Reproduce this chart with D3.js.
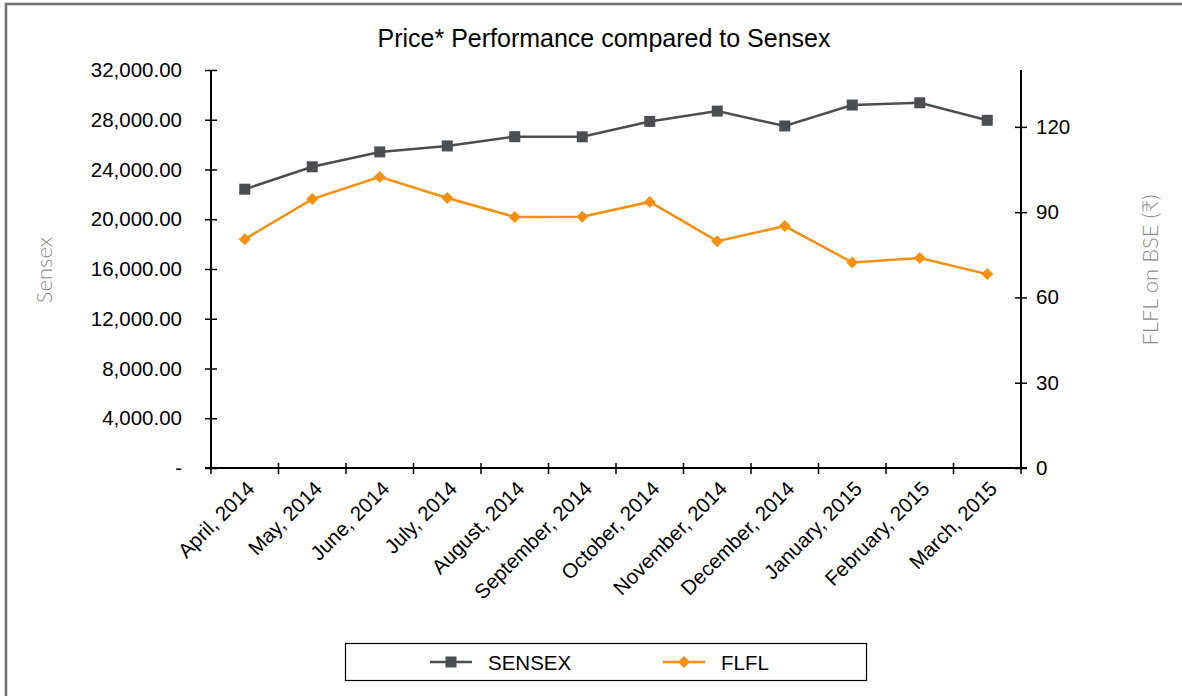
<!DOCTYPE html>
<meta charset="utf-8">
<style>
body { margin: 0; background: #fff; }
text { font-family: "Liberation Sans", Arial, sans-serif; fill: #000; }
.axis-title { font-family: Lato, "Noto Sans", sans-serif; font-weight: 300; fill: #8a8a8a; }
</style>
<svg width="1182" height="696"></svg>
<script src="https://d3js.org/d3.v7.min.js"></script>
<script>

// chart data
let months = ["April, 2014", "May, 2014", "June, 2014", "July, 2014", "August, 2014", "September, 2014",
  "October, 2014", "November, 2014", "December, 2014", "January, 2015", "February, 2015", "March, 2015"];
let sensex = [22417, 24217, 25414, 25895, 26638, 26631, 27866, 28694, 27499, 29183, 29362, 27957];
let flfl = [80.5, 94.6, 102.4, 95.0, 88.3, 88.4, 93.6, 79.8, 85.1, 72.3, 73.9, 68.2];
let leftTicks = [0, 4000, 8000, 12000, 16000, 20000, 24000, 28000, 32000];
let rightTicks = [0, 30, 60, 90, 120];

let svg = d3.select("svg");
let pLeft = 211, pRight = 1021, pTop = 70, pBottom = 468;
let fs = "20.5px";

// outer frame
svg.append("path")
  .attr("d", "M6,700 V4 H1190")
  .attr("fill", "none")
  .attr("stroke", "#6d6e70")
  .attr("stroke-width", 2.5);

svg.append("text")
  .attr("x", 604).attr("y", 47)
  .attr("text-anchor", "middle")
  .style("font-size", "25px")
  .text("Price* Performance compared to Sensex");

let x = d3.scaleBand().domain(months).range([pLeft, pRight]);
let yL = d3.scaleLinear().domain([0, 32000]).range([pBottom, pTop]);
let yR = d3.scaleLinear().domain([0, 140]).range([pBottom, pTop]);

let fmt = d => d === 0 ? "-" : d3.format(",.2f")(d);

// left axis
let gl = svg.append("g").attr("transform", `translate(${pLeft},0)`)
  .call(d3.axisLeft(yL).tickValues(leftTicks).tickFormat(fmt).tickSize(6).tickPadding(23));
gl.selectAll(".tick line").attr("x2", 6).attr("x1", -6);
gl.select(".domain").attr("d", `M0,${pTop}V${pBottom}`);

// right axis
let gr = svg.append("g").attr("transform", `translate(${pRight},0)`)
  .call(d3.axisRight(yR).tickValues(rightTicks).tickSize(6).tickPadding(9));
gr.selectAll(".tick line").attr("x1", -6).attr("x2", 6);
gr.select(".domain").attr("d", `M0,${pTop}V${pBottom}`);

// x axis, ticks at band edges
let gx = svg.append("g").attr("transform", `translate(0,${pBottom})`);
gx.append("line").attr("x1", pLeft - 6).attr("x2", pRight + 6).attr("stroke", "#000").attr("stroke-width", 2);
let edges = months.map(m => x(m)).concat([pRight]);
gx.selectAll(".xt").data(edges).enter().append("line")
  .attr("x1", d => d).attr("x2", d => d).attr("y1", -5).attr("y2", 6)
  .attr("stroke", "#000").attr("stroke-width", 1.5);
gx.selectAll(".xl").data(months).enter().append("text")
  .attr("transform", d => `translate(${x(d) + x.bandwidth() / 2 + 11},${22}) rotate(-45)`)
  .attr("text-anchor", "end")
  .style("font-size", fs)
  .text(d => d);

[gl, gr].forEach(g => {
  g.attr("font-family", null);
  g.select(".domain").attr("stroke-width", 2);
  g.selectAll(".tick line").attr("stroke-width", 1.5);
  g.selectAll(".tick text").style("font-size", fs).attr("fill", "#000");
});

// axis titles
svg.append("text").attr("class", "axis-title")
  .attr("transform", "translate(52,270) rotate(-90)")
  .attr("text-anchor", "middle").style("font-size", "22px")
  .text("Sensex");
svg.append("text").attr("class", "axis-title")
  .attr("transform", "translate(1158,270) rotate(-90)")
  .attr("text-anchor", "middle").style("font-size", "22px")
  .text("FLFL on BSE (₹)");

let cx = d => x(d) + x.bandwidth() / 2;
let gray = "#4a4e50", orange = "#f7900f";

svg.append("path")
  .datum(sensex)
  .attr("fill", "none").attr("stroke", gray).attr("stroke-width", 2.5)
  .attr("d", d3.line().x((d, i) => cx(months[i])).y(d => yL(d)));
svg.selectAll(".sq").data(sensex).enter().append("rect")
  .attr("x", (d, i) => cx(months[i]) - 5.5).attr("y", d => yL(d) - 5.5)
  .attr("width", 11).attr("height", 11).attr("fill", gray);

svg.append("path")
  .datum(flfl)
  .attr("fill", "none").attr("stroke", orange).attr("stroke-width", 2.5)
  .attr("d", d3.line().x((d, i) => cx(months[i])).y(d => yR(d)));
svg.selectAll(".dm").data(flfl).enter().append("path")
  .attr("transform", (d, i) => `translate(${cx(months[i])},${yR(d)})`)
  .attr("d", "M0,-6L6,0L0,6L-6,0Z").attr("fill", orange);

// legend
let lg = svg.append("g");
lg.append("rect").attr("x", 345.5).attr("y", 643.5).attr("width", 521).attr("height", 37)
  .attr("fill", "none").attr("stroke", "#000").attr("stroke-width", 1.2);
let items = [{name: "SENSEX", color: gray, x: 430}, {name: "FLFL", color: orange, x: 663}];
items.forEach((it, i) => {
  lg.append("line").attr("x1", it.x).attr("x2", it.x + 42).attr("y1", 662).attr("y2", 662)
    .attr("stroke", it.color).attr("stroke-width", 2.5);
  if (i === 0) {
    lg.append("rect").attr("x", it.x + 15.5).attr("y", 656.5).attr("width", 11).attr("height", 11).attr("fill", it.color);
  } else {
    lg.append("path").attr("transform", `translate(${it.x + 21},662)`)
      .attr("d", "M0,-6L6,0L0,6L-6,0Z").attr("fill", it.color);
  }
  lg.append("text").attr("x", it.x + 58).attr("y", 670).style("font-size", fs).text(it.name);
});

</script>
